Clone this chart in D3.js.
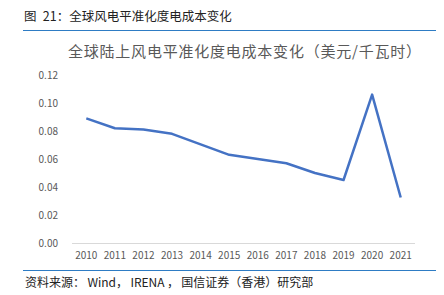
<!DOCTYPE html>
<html>
<head>
<meta charset="utf-8">
<script src="https://cdn.jsdelivr.net/npm/d3@7"></script>
<style>
  body { margin: 0; background: #fff; }
  svg { display: block; font-family: "Noto Sans CJK SC", "Noto Sans", sans-serif; }
</style>
</head>
<body>
<div id="chart"></div>
<script>
// Chart data
const years = ["2010", "2011", "2012", "2013", "2014", "2015", "2016", "2017", "2018", "2019", "2020", "2021"];
const lcoe = [0.089, 0.082, 0.081, 0.078, 0.0705, 0.063, 0.060, 0.057, 0.050, 0.045, 0.106, 0.0325];
const yTicks = [0, 0.02, 0.04, 0.06, 0.08, 0.10, 0.12];

const W = 444, H = 295;
const margin = { top: 75, right: 29, bottom: 52, left: 72 };

const svg = d3.select("#chart").append("svg")
    .attr("width", W)
    .attr("height", H);

// Header and footer
svg.append("text")
    .attr("x", 24).attr("y", 21)
    .attr("font-size", 12.5).attr("fill", "#222")
    .attr("xml:space", "preserve")
    .text("图\u200221：全球风电平准化度电成本变化");

svg.append("line")
    .attr("x1", 23).attr("x2", 436).attr("y1", 30.5).attr("y2", 30.5)
    .attr("stroke", "#2e7cc4").attr("stroke-width", 1.2);

svg.append("line")
    .attr("x1", 23).attr("x2", 436).attr("y1", 270.5).attr("y2", 270.5)
    .attr("stroke", "#2e7cc4").attr("stroke-width", 1.2);

svg.append("text")
    .attr("x", 25).attr("y", 287)
    .attr("font-size", 12).attr("fill", "#222")
    .attr("xml:space", "preserve")
    .text("资料来源：\u2009Wind，\u2009IRENA\u2009，\u2009国信证券（香港）研究部");

// Chart title
svg.append("text")
    .attr("x", 68).attr("y", 57)
    .attr("font-size", 15).attr("fill", "#595959")
    .attr("textLength", 353).attr("lengthAdjust", "spacing")
    .text("全球陆上风电平准化度电成本变化（美元/千瓦时）");

const g = svg.append("g");

// Scales
const x = d3.scaleBand()
    .domain(years)
    .range([margin.left, W - margin.right]);

const y = d3.scaleLinear()
    .domain([0, 0.12])
    .range([243, 75]);

// Y axis labels (no axis line)
g.append("g")
    .selectAll("text")
    .data(yTicks)
    .enter()
    .append("text")
    .attr("x", 58)
    .attr("y", d => y(d) + 3.5)
    .attr("text-anchor", "end")
    .attr("font-size", 10).attr("fill", "#595959")
    .text(d => d3.format(".2f")(d));

// X axis baseline
g.append("line")
    .attr("x1", x.range()[0]).attr("x2", x.range()[1])
    .attr("y1", y(0) + 0.5).attr("y2", y(0) + 0.5)
    .attr("stroke", "#d9d9d9").attr("stroke-width", 1);

g.append("g")
    .selectAll("text")
    .data(years)
    .enter()
    .append("text")
    .attr("x", d => x(d) + x.bandwidth() / 2)
    .attr("y", 259)
    .attr("text-anchor", "middle")
    .attr("font-size", 10).attr("fill", "#595959")
    .text(d => d);

// Line
const line = d3.line()
    .x((d, i) => x(years[i]) + x.bandwidth() / 2)
    .y(d => y(d));

g.append("path")
    .datum(lcoe)
    .attr("d", line)
    .attr("fill", "none")
    .attr("stroke", "#4472c4")
    .attr("stroke-width", 2.5)
    .attr("stroke-linejoin", "round");
</script>
</body>
</html>
